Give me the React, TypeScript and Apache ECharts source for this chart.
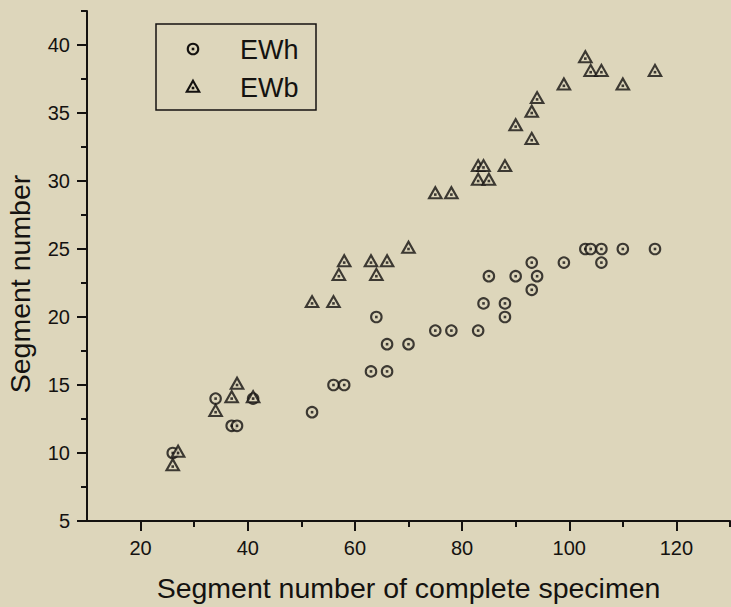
import React, { useEffect, useRef } from "react";
import * as echarts from "echarts";

// EWh: [segment number of complete specimen, segment number]
const ewhPoints: [number, number][] = [
  [26, 10], [34, 14], [37, 12], [38, 12], [41, 14], [52, 13], [56, 15], [58, 15],
  [63, 16], [66, 16], [66, 18], [70, 18], [64, 20], [75, 19], [78, 19], [83, 19],
  [84, 21], [88, 21], [88, 20], [85, 23], [90, 23], [94, 23], [93, 22], [93, 24],
  [99, 24], [103, 25], [104, 25], [106, 25], [106, 24], [110, 25], [116, 25],
];
// EWb
const ewbPoints: [number, number][] = [
  [26, 9], [27, 10], [34, 13], [37, 14], [38, 15], [41, 14], [52, 21], [56, 21],
  [57, 23], [58, 24], [63, 24], [64, 23], [66, 24], [70, 25], [75, 29], [78, 29],
  [83, 31], [84, 31], [83, 30], [85, 30], [88, 31], [90, 34], [93, 33], [93, 35],
  [94, 36], [99, 37], [103, 39], [104, 38], [106, 38], [110, 37], [116, 38],
];

const xMajorTicks = [20, 40, 60, 80, 100, 120];
const xMinorTicks = [30, 50, 70, 90, 110, 130];
const yMajorTicks = [5, 10, 15, 20, 25, 30, 35, 40];
const yMinorTicks = [7.5, 12.5, 17.5, 22.5, 27.5, 32.5, 37.5, 42.5];

const seriesNames = ["EWh", "EWb"];
const xTitle = "Segment number of complete specimen";
const yTitle = "Segment number";

const BG = "#ddd6bb";
const INK = "#141210";
const FONT = "'Liberation Sans', Arial, Helvetica, sans-serif";

export default function App() {
  const ref = useRef<HTMLDivElement>(null);

  useEffect(() => {
    if (!ref.current) return;
    const chart = echarts.init(ref.current, undefined, { renderer: "svg" });

    const tickLine = { color: INK, width: 2 };
    const markerStyle = { color: BG, borderColor: INK, borderWidth: 2.1 };

    const option: any = {
      animation: false,
      backgroundColor: BG,
      textStyle: { fontFamily: FONT, color: INK },
      grid: { left: 87, right: 1, top: 11, bottom: 81, containLabel: false },
      xAxis: [
        {
          type: "value",
          min: 10,
          max: 130,
          position: "bottom",
          axisLine: { show: true, onZero: false, lineStyle: tickLine },
          axisTick: { show: true, inside: false, length: 10, lineStyle: tickLine, customValues: xMajorTicks },
          axisLabel: { show: true, customValues: xMajorTicks, fontSize: 20, color: INK, margin: 17, fontFamily: FONT },
          splitLine: { show: false },
          name: xTitle,
          nameLocation: "middle",
          nameGap: 52,
          nameTextStyle: { fontSize: 28.5, color: INK, fontFamily: FONT },
        },
        {
          type: "value",
          min: 10,
          max: 130,
          position: "bottom",
          axisLine: { show: false, onZero: false },
          axisTick: { show: true, inside: false, length: 6, lineStyle: tickLine, customValues: xMinorTicks },
          axisLabel: { show: false },
          splitLine: { show: false },
        },
      ],
      yAxis: [
        {
          type: "value",
          min: 5,
          max: 42.5,
          position: "left",
          axisLine: { show: true, onZero: false, lineStyle: tickLine },
          axisTick: { show: true, inside: false, length: 10, lineStyle: tickLine, customValues: yMajorTicks },
          axisLabel: { show: true, customValues: yMajorTicks, fontSize: 20, color: INK, margin: 17, fontFamily: FONT },
          splitLine: { show: false },
        },
        {
          type: "value",
          min: 5,
          max: 42.5,
          position: "left",
          axisLine: { show: false, onZero: false },
          axisTick: { show: true, inside: false, length: 6, lineStyle: tickLine, customValues: yMinorTicks },
          axisLabel: { show: false },
          splitLine: { show: false },
        },
      ],
      series: [
        {
          name: seriesNames[0],
          type: "scatter",
          xAxisIndex: 0,
          yAxisIndex: 0,
          symbol: "circle",
          symbolSize: 10.5,
          itemStyle: markerStyle,
          data: ewhPoints,
          z: 2,
        },
        {
          name: seriesNames[0] + " dot",
          type: "scatter",
          xAxisIndex: 0,
          yAxisIndex: 0,
          symbol: "rect",
          symbolSize: 2.6,
          itemStyle: { color: INK },
          data: ewhPoints,
          z: 3,
        },
        {
          name: seriesNames[1],
          type: "scatter",
          xAxisIndex: 0,
          yAxisIndex: 0,
          symbol: "triangle",
          symbolSize: [12.5, 11],
          symbolOffset: [0, -1.8],
          itemStyle: markerStyle,
          data: ewbPoints,
          z: 4,
        },
        {
          name: seriesNames[1] + " dot",
          type: "scatter",
          xAxisIndex: 0,
          yAxisIndex: 0,
          symbol: "rect",
          symbolSize: 2.6,
          itemStyle: { color: INK },
          data: ewbPoints,
          z: 5,
        },
      ],
      graphic: [
        {
          type: "text",
          x: 20,
          y: 284,
          rotation: Math.PI / 2,
          silent: true,
          style: { text: yTitle, fill: INK, font: `28.5px ${FONT}`, align: "center", verticalAlign: "middle" },
        },
        {
          type: "rect",
          silent: true,
          shape: { x: 156, y: 24, width: 160, height: 86 },
          style: { fill: "none", stroke: INK, lineWidth: 1.5 },
        },
        {
          type: "circle",
          silent: true,
          shape: { cx: 193, cy: 49, r: 5.25 },
          style: { fill: BG, stroke: INK, lineWidth: 2.1 },
        },
        {
          type: "rect",
          silent: true,
          shape: { x: 191.7, y: 47.7, width: 2.6, height: 2.6 },
          style: { fill: INK },
        },
        {
          type: "polygon",
          silent: true,
          shape: { points: [[193, 80.7], [199.25, 91.7], [186.75, 91.7]] },
          style: { fill: BG, stroke: INK, lineWidth: 2.1 },
        },
        {
          type: "rect",
          silent: true,
          shape: { x: 191.7, y: 86.7, width: 2.6, height: 2.6 },
          style: { fill: INK },
        },
        {
          type: "text",
          x: 240,
          y: 50,
          silent: true,
          style: { text: seriesNames[0], fill: INK, font: `27px ${FONT}`, verticalAlign: "middle" },
        },
        {
          type: "text",
          x: 240,
          y: 88,
          silent: true,
          style: { text: seriesNames[1], fill: INK, font: `27px ${FONT}`, verticalAlign: "middle" },
        },
      ],
    };

    chart.setOption(option);
    return () => chart.dispose();
  }, []);

  return (
    <div
      ref={ref}
      style={{ position: "fixed", left: 0, top: 0, width: 731, height: 607, background: BG }}
    />
  );
}
